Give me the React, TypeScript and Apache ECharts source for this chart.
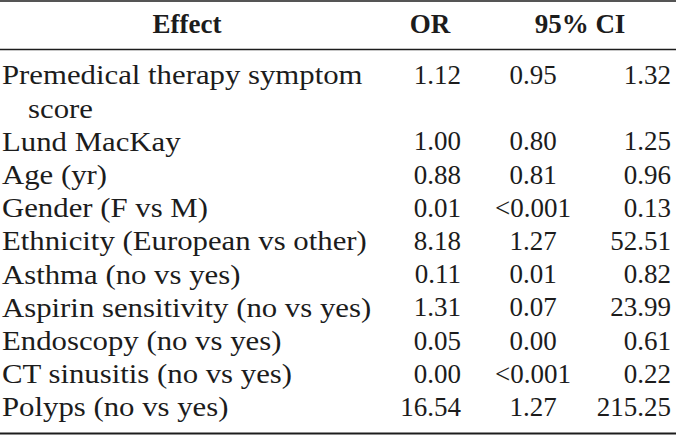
import React, { useEffect, useRef } from "react";
import * as echarts from "echarts";

// ---- table data ----
const headers = ["Effect", "OR", "95% CI"];
const effectLines: string[][] = [
  ["Premedical therapy symptom", "score"],
  ["Lund MacKay"],
  ["Age (yr)"],
  ["Gender (F vs M)"],
  ["Ethnicity (European vs other)"],
  ["Asthma (no vs yes)"],
  ["Aspirin sensitivity (no vs yes)"],
  ["Endoscopy (no vs yes)"],
  ["CT sinusitis (no vs yes)"],
  ["Polyps (no vs yes)"],
];
const orValues = ["1.12", "1.00", "0.88", "0.01", "8.18", "0.11", "1.31", "0.05", "0.00", "16.54"];
const ciLower = ["0.95", "0.80", "0.81", "<0.001", "1.27", "0.01", "0.07", "0.00", "<0.001", "1.27"];
const ciUpper = ["1.32", "1.25", "0.96", "0.13", "52.51", "0.82", "23.99", "0.61", "0.22", "215.25"];

const W = 676;
const H = 436;
const FONT = "'Liberation Serif', 'Times New Roman', serif";
const FS = 27;
const TEXT = "#1c1c1c";
const LABEL_SCALE = 1.14;

function buildGraphics() {
  const els: any[] = [];
  // rules
  els.push({ type: "line", shape: { x1: 0, y1: 1, x2: W, y2: 1 }, style: { stroke: TEXT, lineWidth: 1.6 } });
  els.push({ type: "line", shape: { x1: 0, y1: 49.5, x2: W, y2: 49.5 }, style: { stroke: TEXT, lineWidth: 1.4 } });
  els.push({ type: "line", shape: { x1: 0, y1: 433.5, x2: W, y2: 433.5 }, style: { stroke: TEXT, lineWidth: 1.8 } });

  // headers
  const headerX = [187, 430, 580];
  headers.forEach((h, i) => {
    els.push({
      type: "text",
      x: headerX[i],
      y: 24,
      style: {
        text: h,
        fill: TEXT,
        font: `bold ${FS}px ${FONT}`,
        textAlign: "center",
        textVerticalAlign: "middle",
      },
    });
  });

  // body
  const firstBaseline = 84;
  const step = 33.2;
  const capOffset = 9;
  let line = 0;
  effectLines.forEach((lines, r) => {
    const yRow = firstBaseline + line * step - capOffset;
    lines.forEach((t, k) => {
      els.push({
        type: "text",
        x: k === 0 ? 2 : 28,
        y: firstBaseline + (line + k) * step - capOffset,
        scaleX: LABEL_SCALE,
        style: {
          text: t,
          fill: TEXT,
          font: `${FS}px ${FONT}`,
          textAlign: "left",
          textVerticalAlign: "middle",
        },
      });
    });
    els.push({
      type: "text",
      x: 461,
      y: yRow,
      style: { text: orValues[r], fill: TEXT, font: `${FS}px ${FONT}`, textAlign: "right", textVerticalAlign: "middle" },
    });
    els.push({
      type: "text",
      x: 533,
      y: yRow,
      style: { text: ciLower[r], fill: TEXT, font: `${FS}px ${FONT}`, textAlign: "center", textVerticalAlign: "middle" },
    });
    els.push({
      type: "text",
      x: 671,
      y: yRow,
      style: { text: ciUpper[r], fill: TEXT, font: `${FS}px ${FONT}`, textAlign: "right", textVerticalAlign: "middle" },
    });
    line += lines.length;
  });
  return els;
}

export default function App() {
  const ref = useRef<HTMLDivElement>(null);
  useEffect(() => {
    document.body.style.margin = "0";
    if (!ref.current) return;
    const chart = echarts.init(ref.current, null, { renderer: "svg" });
    chart.setOption({
      animation: false,
      backgroundColor: "#ffffff",
      graphic: { elements: buildGraphics() },
    });
    return () => chart.dispose();
  }, []);
  return <div ref={ref} style={{ width: W, height: H }} />;
}
